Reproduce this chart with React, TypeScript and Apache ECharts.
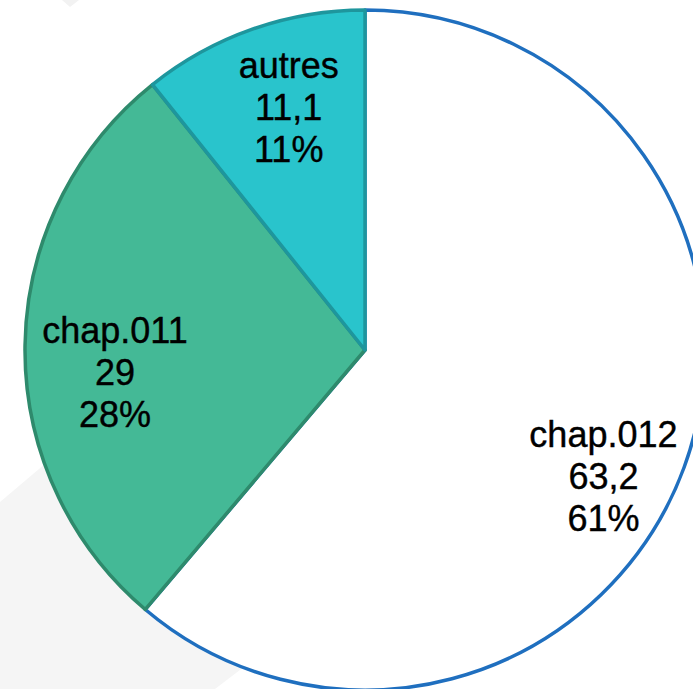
import React, { useEffect, useRef } from "react";
import * as echarts from "echarts";

const categories = ["chap.012", "chap.011", "autres"];
const values = [63.2, 29, 11.1];
const fills = ["#FFFFFF", "#44B996", "#29C4CC"];
const borders = ["#1F6FBF", "#2E8A6C", "#1E969D"];
const labelOffsets: [number, number][] = [
  [76, 67],
  [-77, 25],
  [-19, -79],
];

export default function App() {
  const ref = useRef<HTMLDivElement>(null);
  useEffect(() => {
    if (!ref.current) return;
    const chart = echarts.init(ref.current, undefined, { renderer: "svg" });
    const fmt = (v: number) => String(v).replace(".", ",");
    chart.setOption({
      animation: false,
      backgroundColor: "#FFFFFF",
      graphic: [
        {
          type: "polygon",
          z: -10,
          shape: {
            points: [
              [0, 502],
              [365, 193],
              [450, 510],
              [215, 689],
              [0, 689],
            ],
          },
          style: { fill: "#F5F5F5" },
        },
        {
          type: "polygon",
          z: -10,
          shape: {
            points: [
              [62, 0],
              [79, 0],
              [70, 7],
            ],
          },
          style: { fill: "#F2F2F2" },
        },
      ],
      series: [
        {
          type: "pie",
          center: [365, 350],
          radius: 340,
          startAngle: 90,
          clockwise: true,
          avoidLabelOverlap: false,
          emphasis: { disabled: true },
          label: {
            show: true,
            position: "inside",
            color: "#000000",
            fontFamily: "Liberation Sans",
            fontSize: 36,
            lineHeight: 42,
            align: "center",
            textBorderColor: "#000000",
            textBorderWidth: 0.4,
            formatter: (p: any) =>
              `${p.name}\n${fmt(p.value)}\n${Math.round(p.percent)}%`,
          },
          labelLine: { show: false },
          data: categories.map((name, i) => ({
            name,
            value: values[i],
            itemStyle: {
              color: fills[i],
              borderColor: borders[i],
              borderWidth: 3.5,
            },
            label: { offset: labelOffsets[i] },
          })),
        },
      ],
    });
    return () => chart.dispose();
  }, []);
  return (
    <div
      ref={ref}
      style={{ position: "fixed", left: 0, top: 0, width: 693, height: 689 }}
    />
  );
}
